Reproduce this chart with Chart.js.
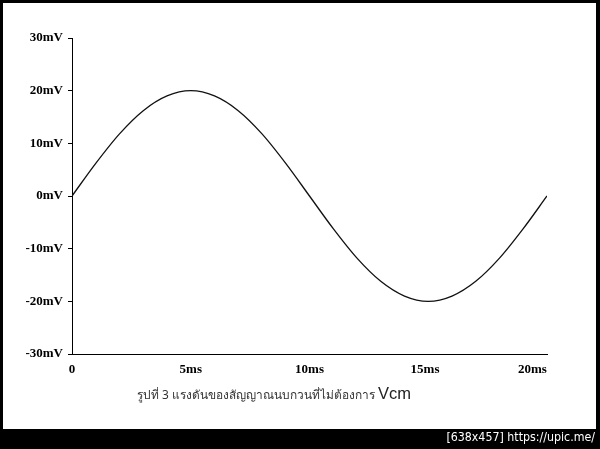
<!DOCTYPE html>
<html>
<head>
<meta charset="utf-8">
<script src="https://cdn.jsdelivr.net/npm/chart.js@4/dist/chart.umd.min.js"></script>
<style>
  html, body { margin: 0; padding: 0; background: #000; }
  #frame { position: relative; width: 600px; height: 449px; background: #000; overflow: hidden; }
  #paper { position: absolute; left: 3px; top: 3px; width: 593px; height: 426px; background: #fff; }
  #c { position: absolute; left: 0; top: 0; }
  #caption { position: absolute; left: 137px; top: 384px; font-family: "Noto Sans", "DejaVu Sans", sans-serif; font-size: 11.9px; color: #333; white-space: nowrap; }
  #caption .big { font-family: "Liberation Sans", Arial, sans-serif; font-size: 16.5px; color: #222; }
  #wm { position: absolute; right: 5px; top: 430px; font-family: "DejaVu Sans Condensed", "DejaVu Sans", sans-serif; font-size: 12.3px; color: #fff; white-space: nowrap; }
</style>
</head>
<body>
<div id="frame">
  <div id="paper"></div>
  <canvas id="c" width="600" height="449"></canvas>
  <div id="caption">รูปที่ 3 แรงดันของสัญญาณนบกวนที่ไม่ต้องการ <span class="big">Vcm</span></div>
  <div id="wm">[638x457] https://upic.me/</div>
</div>
<script>
// Data (time in ms, voltage in mV)
const timeMs = [0, 1, 2, 3, 4, 5, 6, 7, 8, 9, 10, 11, 12, 13, 14, 15, 16, 17, 18, 19, 20];
const voltageMv = [0, 6.2, 11.8, 16.2, 19.0, 20.0, 19.0, 16.2, 11.8, 6.2, 0, -6.2, -11.8, -16.2, -19.0, -20.0, -19.0, -16.2, -11.8, -6.2, 0];
const xTickValues = [0, 5, 10, 15, 20];
const xTickLabels = ["0", "5ms", "10ms", "15ms  ", "20ms         "];
const yTickValues = [-30, -20, -10, 0, 10, 20, 30];
const yTickLabels = ["-30mV", "-20mV", "-10mV", "0mV", "10mV", "20mV", "30mV"];

const points = timeMs.map((t, i) => ({ x: t, y: voltageMv[i] }));
const tickFont = { family: "'Liberation Serif', 'Times New Roman', serif", size: 13, weight: 'bold' };

new Chart(document.getElementById('c'), {
  type: 'line',
  data: {
    datasets: [{
      data: points,
      borderColor: '#111',
      borderWidth: 1.3,
      pointRadius: 0,
      tension: 0.4,
      cubicInterpolationMode: 'monotone',
      fill: false
    }]
  },
  options: {
    responsive: false,
    animation: false,
    events: [],
    layout: { padding: { left: 0, right: 53, top: 38, bottom: 0 } },
    plugins: { legend: { display: false }, tooltip: { enabled: false } },
    scales: {
      x: {
        type: 'linear',
        min: 0, max: 20,
        afterBuildTicks: s => { s.ticks = xTickValues.map(v => ({ value: v })); },
        afterFit: s => { s.height = 95; },
        border: { display: true, color: '#000', width: 1 },
        grid: { display: true, drawOnChartArea: false, drawTicks: false, color: '#000' },
        ticks: {
          padding: 8,
          color: '#000',
          font: tickFont,
          maxRotation: 0,
          autoSkip: false,
          callback: (v) => xTickLabels[xTickValues.indexOf(v)]
        }
      },
      y: {
        type: 'linear',
        min: -30, max: 30,
        afterBuildTicks: s => { s.ticks = yTickValues.map(v => ({ value: v })); },
        afterFit: s => { s.width = 72; },
        border: { display: true, color: '#000', width: 1 },
        grid: { display: true, drawOnChartArea: false, drawTicks: true, tickLength: 4, color: '#000' },
        ticks: {
          padding: 5,
          color: '#000',
          font: tickFont,
          autoSkip: false,
          callback: (v) => yTickLabels[yTickValues.indexOf(v)]
        }
      }
    }
  }
});
</script>
</body>
</html>
